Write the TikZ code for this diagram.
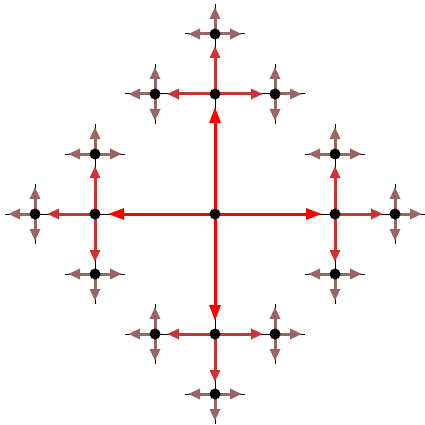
\documentclass[tikz,border=0pt]{standalone}
\usetikzlibrary{arrows.meta}
\definecolor{lvA}{rgb}{1,0,0}
\definecolor{lvB}{rgb}{0.8,0.2,0.2}
\definecolor{lvC}{rgb}{0.6,0.4,0.4}
\begin{document}
\begin{tikzpicture}[x=1pt,y=-1pt,
  dot/.style={circle,fill=black,inner sep=0pt,minimum size=11pt},
  base/.style={black,line width=1pt},
  eA/.style={lvA,line width=3pt,-{Triangle[length=16pt,width=11pt]},shorten >=13pt},
  eB/.style={lvB,line width=3pt,-{Triangle[length=12pt,width=10pt]},shorten >=12pt},
  eC/.style={lvC,line width=3pt,-{Triangle[length=12pt,width=10pt]},shorten >=3pt}]
\useasboundingbox (0,0) rectangle (425,425);
% positions
\coordinate (c) at (215,214);
\foreach \n/\x/\y in {u/215/94,r/335/214,d/215/334,l/95/214,
  uu/215/34,ul/155/94,ur/275/94,
  ru/335/154,rd/335/274,rr/395/214,
  dl/155/334,dr/275/334,dd/215/394,
  lu/95/154,ld/95/274,ll/35/214}
  \coordinate (\n) at (\x,\y);
% leaves
\foreach \p/\k/\dx/\dy in {
  uu/l/-30/0,uu/r/30/0,uu/u/0/-30,
  ul/l/-30/0,ul/u/0/-30,ul/d/0/30,
  ur/r/30/0,ur/u/0/-30,ur/d/0/30,
  ru/l/-30/0,ru/r/30/0,ru/u/0/-30,
  rd/l/-30/0,rd/r/30/0,rd/d/0/30,
  rr/r/30/0,rr/u/0/-30,rr/d/0/30,
  dl/l/-30/0,dl/u/0/-30,dl/d/0/30,
  dr/r/30/0,dr/u/0/-30,dr/d/0/30,
  dd/l/-30/0,dd/r/30/0,dd/d/0/30,
  lu/l/-30/0,lu/r/30/0,lu/u/0/-30,
  ld/l/-30/0,ld/r/30/0,ld/d/0/30,
  ll/l/-30/0,ll/u/0/-30,ll/d/0/30}
  \coordinate (\p\k) at ([shift={(\dx,\dy)}]\p);
% thin black lines
\foreach \a/\b in {c/u,c/r,c/d,c/l,u/uu,u/ul,u/ur,r/ru,r/rd,r/rr,d/dl,d/dr,d/dd,l/lu,l/ld,l/ll}
  \draw[base] (\a) -- (\b);
\foreach \p/\k in {uu/l,uu/r,uu/u,ul/l,ul/u,ul/d,ur/r,ur/u,ur/d,
  ru/l,ru/r,ru/u,rd/l,rd/r,rd/d,rr/r,rr/u,rr/d,
  dl/l,dl/u,dl/d,dr/r,dr/u,dr/d,dd/l,dd/r,dd/d,
  lu/l,lu/r,lu/u,ld/l,ld/r,ld/d,ll/l,ll/u,ll/d}
  \draw[base] (\p) -- (\p\k);
% coloured arrows
\foreach \p/\k in {uu/l,uu/r,uu/u,ul/l,ul/u,ul/d,ur/r,ur/u,ur/d,
  ru/l,ru/r,ru/u,rd/l,rd/r,rd/d,rr/r,rr/u,rr/d,
  dl/l,dl/u,dl/d,dr/r,dr/u,dr/d,dd/l,dd/r,dd/d,
  lu/l,lu/r,lu/u,ld/l,ld/r,ld/d,ll/l,ll/u,ll/d}
  \draw[eC] (\p) -- (\p\k);
\foreach \a/\b in {u/uu,u/ul,u/ur,r/ru,r/rd,r/rr,d/dl,d/dr,d/dd,l/lu,l/ld,l/ll}
  \draw[eB] (\a) -- (\b);
\foreach \b in {u,r,d,l}
  \draw[eA] (c) -- (\b);
% dots
\foreach \n in {c,u,r,d,l,uu,ul,ur,ru,rd,rr,dl,dr,dd,lu,ld,ll}
  \node[dot] (n\n) at (\n) {};
\end{tikzpicture}
\end{document}
